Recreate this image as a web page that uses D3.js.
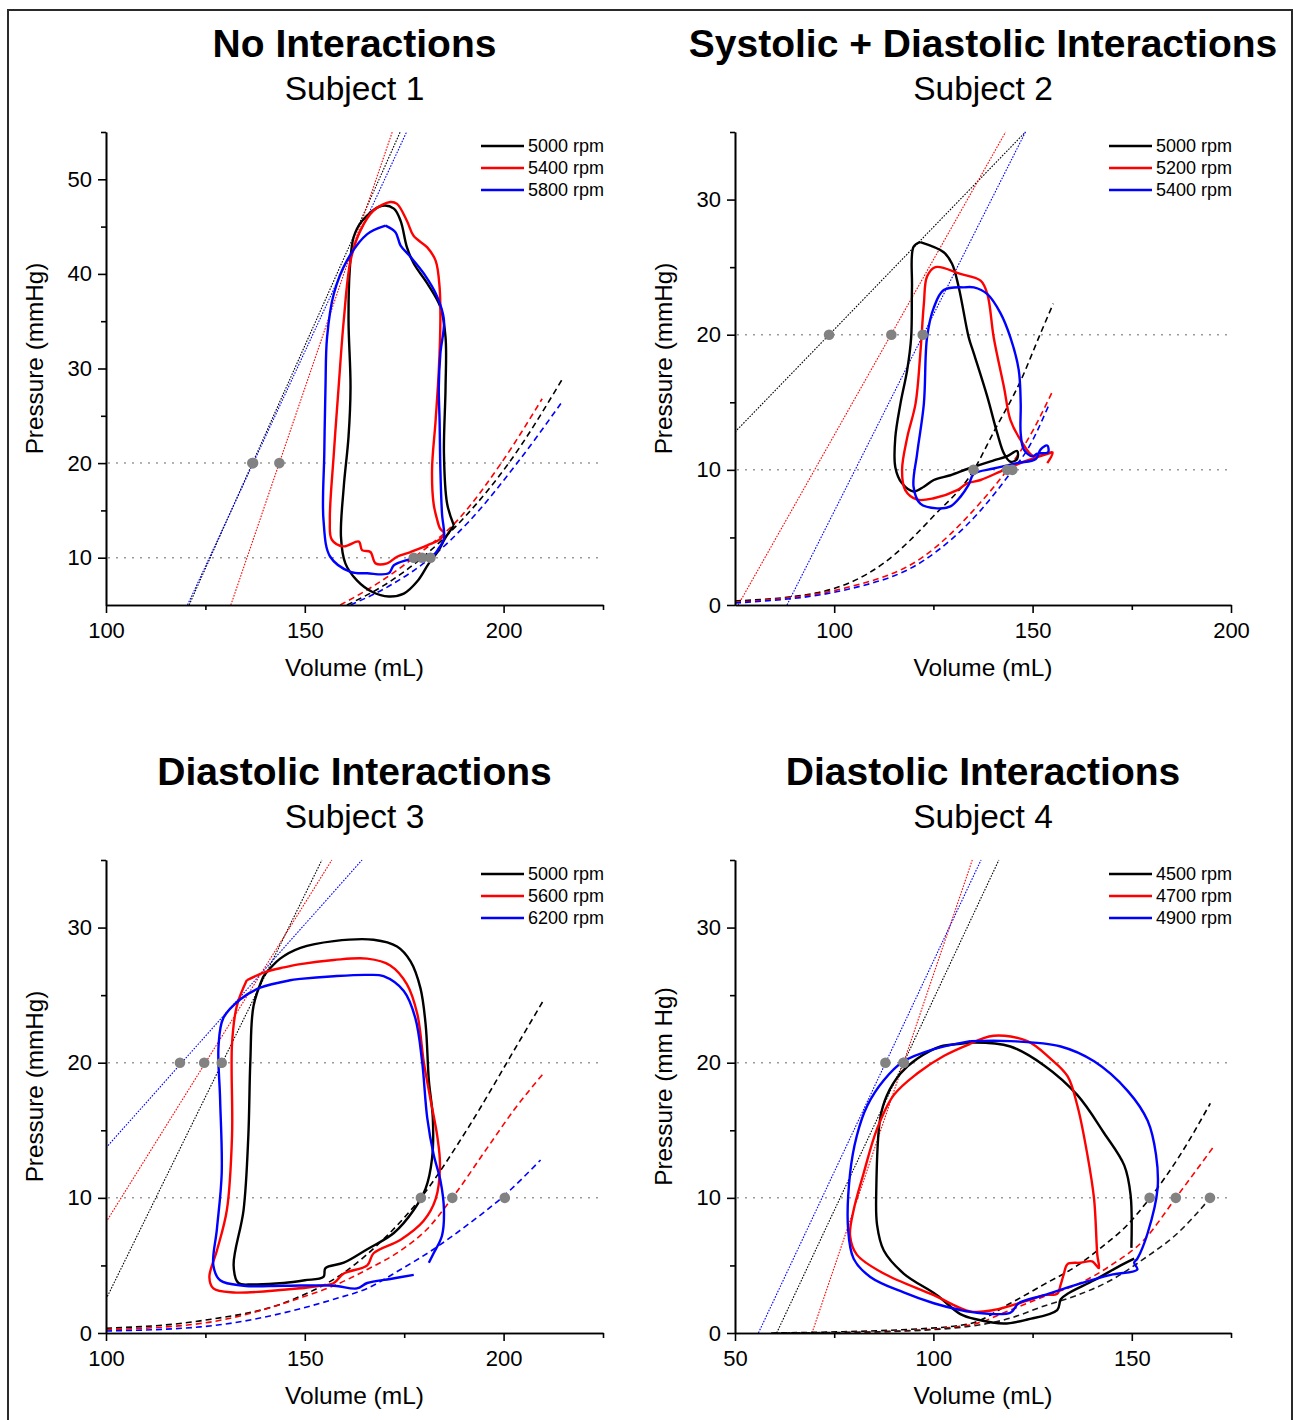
<!DOCTYPE html>
<html>
<head>
<meta charset="utf-8">
<script src="https://cdn.jsdelivr.net/npm/d3@7"></script>
<style>
  body { margin: 0; background: #fff; }
  svg text { font-family: "Liberation Sans", Arial, sans-serif; fill: #000; }
</style>
</head>
<body>
<svg id="fig" width="1293" height="1420"></svg>
<script>
// ---------- text ----------
const panelTitles = ["No Interactions", "Systolic + Diastolic Interactions", "Diastolic Interactions", "Diastolic Interactions"];
const panelSubtitles = ["Subject 1", "Subject 2", "Subject 3", "Subject 4"];
const speedLabels = [
  ["5000 rpm", "5400 rpm", "5800 rpm"],
  ["5000 rpm", "5200 rpm", "5400 rpm"],
  ["5000 rpm", "5600 rpm", "6200 rpm"],
  ["4500 rpm", "4700 rpm", "4900 rpm"]
];
const yAxisTitles = ["Pressure (mmHg)", "Pressure (mmHg)", "Pressure (mmHg)", "Pressure (mm Hg)"];
const xAxisTitle = "Volume (mL)";

// ---------- axes ----------
const xDomains = [[100, 225], [75, 200], [100, 225], [50, 175]];
const yDomains = [[5, 55], [0, 35], [0, 35], [0, 35]];
const xMajorTicks = [[100, 150, 200], [100, 150, 200], [100, 150, 200], [50, 100, 150]];
const xMinorTicks = [[125, 175, 225], [125, 175], [125, 175, 225], [75, 125, 175]];
const yMajorTicks = [[10, 20, 30, 40, 50], [0, 10, 20, 30], [0, 10, 20, 30], [0, 10, 20, 30]];
const yMinorTicks = [[15, 25, 35, 45, 55], [5, 15, 25, 35], [5, 15, 25, 35], [5, 15, 25, 35]];
const refPressures = [10, 20];

// ---------- Subject 1: pressure-volume loops [mL, mmHg] ----------
const s1Loop5000 = [[187.5,13.4],[185.8,15.7],[185.0,21.0],[185.4,28.0],[185.4,33.3],[184.1,36.5],[180.8,39.0],[177.4,41.1],[175.7,42.8],[174.1,45.6],[172.4,46.9],[169.4,47.2],[164.4,45.6],[162.3,43.9],[161.3,40.4],[161.0,35.1],[161.5,28.0],[161.0,22.8],[159.8,17.5],[159.1,12.2],[160.2,9.4],[163.1,7.6],[166.9,6.4],[171.1,5.9],[174.9,6.2],[178.3,7.5],[181.2,9.4],[183.7,10.8],[185.2,12.0],[187.5,13.4]];
const s1Loop5400 = [[183.3,14.0],[182.4,15.7],[182.0,19.3],[182.9,24.5],[183.7,29.8],[184.1,35.1],[183.9,38.6],[182.9,41.4],[180.8,42.8],[177.4,44.0],[175.7,45.6],[173.2,47.4],[171.5,47.6],[167.3,46.7],[164.0,44.6],[161.5,41.4],[159.8,35.1],[158.5,28.0],[157.3,21.0],[156.3,14.0],[156.8,11.9],[159.8,11.2],[163.6,11.7],[164.4,10.8],[166.5,10.6],[167.8,9.4],[170.7,9.4],[173.2,10.1],[176.6,10.6],[180.8,11.3],[184.1,12.0],[185.0,12.6],[184.0,13.1],[183.3,14.0]];
const s1Loop5800 = [[170.3,45.1],[165.7,44.2],[160.6,41.4],[157.3,37.9],[155.6,33.3],[155.2,28.0],[154.9,21.0],[154.7,14.0],[156.4,10.1],[161.5,8.5],[165.7,8.35],[171.1,8.35],[172.4,9.2],[175.7,9.75],[179.1,10.1],[182.4,10.3],[183.7,11.0],[185.0,12.0],[184.5,14.7],[184.1,19.3],[183.9,24.5],[183.7,28.0],[184.1,31.6],[185.0,35.1],[183.3,37.6],[180.0,40.0],[176.6,41.8],[174.1,43.0],[172.8,44.4],[170.3,45.1]];
// end-systolic lines (endpoints) and end-diastolic curves, order 5000 / 5400 / 5800
const s1Espvr = [[[120.9,5],[174.0,55]], [[131.4,5],[172.0,55]], [[120.5,5],[175.6,55]]];
const s1Edpvr = [
  [[160.6,5],[170,7.1],[179.5,10],[190,14.2],[201.3,20],[214.8,28.9]],
  [[158.9,5],[168,7.2],[177.4,10],[188.5,14],[199.4,20],[209.7,26.8]],
  [[161.5,5],[172,7.2],[181.7,10],[191,13.7],[203.4,20],[214.4,26.3]]
];
const s1VolAt20 = [136.8, 143.6, 137.0];
const s1VolAt10 = [179.5, 177.4, 181.6];

// ---------- Subject 2 ----------
const s2Loop5000 = [[121.7,26.85],[120.0,26.5],[119.6,23.5],[119.4,19.8],[118.4,17.4],[116.7,14.9],[115.4,12.4],[115.4,10.2],[117.1,9.0],[120.0,8.4],[122.6,8.75],[125.1,9.25],[129.3,9.6],[133.9,10.1],[140.2,10.7],[143.5,11.0],[146.1,11.4],[146.1,10.8],[144.4,10.6],[142.8,11.2],[141.1,12.7],[138.6,15.4],[135.2,18.6],[133.9,19.8],[131.4,23.5],[129.7,25.25],[127.6,26.1],[121.7,26.85]];
const s2Loop5200 = [[153.7,10.5],[155.0,11.3],[150.3,11.0],[147.0,12.2],[144.4,13.7],[142.8,16.1],[140.2,19.8],[138.6,23.0],[136.9,24.0],[131.8,24.5],[125.5,25.0],[123.4,24.3],[122.6,22.3],[121.7,18.6],[120.5,14.9],[118.4,12.4],[117.1,10.0],[117.9,8.5],[120.9,7.8],[125.1,7.9],[131.0,8.5],[133.5,9.0],[136.9,9.25],[142.8,10.0],[148.7,10.7],[155.0,11.3]];
const s2Loop5400 = [[132.7,23.5],[127.6,23.3],[125.1,22.0],[123.4,19.8],[122.6,14.9],[120.9,11.2],[120.0,8.75],[121.7,7.5],[125.9,7.15],[129.3,7.3],[131.8,8.0],[133.9,8.9],[135.2,9.7],[140.2,10.1],[146.1,10.5],[150.8,10.8],[152.0,11.5],[153.7,11.8],[153.9,11.3],[151.2,11.2],[149.9,11.0],[147.8,11.5],[147.0,12.7],[147.0,14.9],[146.5,17.4],[144.4,19.8],[141.9,21.6],[138.6,23.0],[135.2,23.5],[132.7,23.5]];
const s2Espvr = [[[75,12.8],[148.2,35]], [[75.8,0],[143.2,35]], [[88.1,0],[148.2,35]]];
const s2Edpvr = [
  [[75,0.3],[95.6,0.9],[112.5,3.1],[125.1,6.6],[135.2,10],[140.2,12.8],[147,16.6],[152,20.1],[155.2,22.3]],
  [[75,0.2],[104,1.35],[122.6,3.6],[136.9,7.6],[143.6,10],[148.7,12.2],[155,15.8]],
  [[75,0.15],[104,1.2],[122.6,3.3],[136.9,7.0],[145,10],[148.7,11.5],[154.1,14.8]]
];
const s2VolAt20 = [98.7, 114.4, 122.3];
const s2VolAt10 = [135.1, 143.6, 144.9];

// ---------- Subject 3 ----------
const s3Loop5000 = [[139.6,26.4],[137.1,24.2],[136.3,20.1],[135.8,14.6],[134.6,9.1],[132.1,5.0],[133.3,3.7],[137.1,3.6],[144.7,3.7],[150,3.9],[154.7,4.15],[155.2,4.8],[159.8,5.2],[165.7,6.2],[172.4,7.4],[177.4,9.1],[180.4,10.7],[182.0,12.9],[182.2,15.9],[181.2,18.7],[180.4,22.8],[179.1,25.5],[176.6,27.5],[173.2,28.6],[167.3,29.1],[157.3,29.0],[148.9,28.5],[143.8,27.7],[139.6,26.4]];
const s3Loop5600 = [[135.4,26.1],[132.9,24.2],[131.7,21.4],[131.7,14.6],[130.4,9.1],[127.9,6.1],[126.0,4.15],[127.0,3.3],[132.1,3.0],[144.7,3.2],[153.9,3.5],[157.3,3.7],[159.8,4.4],[165.7,5.0],[167.3,5.9],[174.1,6.9],[179.9,8.3],[182.9,9.9],[184.0,12.4],[183.3,14.6],[181.6,17.3],[179.9,20.1],[178.3,23.6],[175.7,25.8],[171.5,27.2],[165.7,27.7],[157.3,27.6],[148.9,27.3],[144.7,27.05],[140.0,26.7],[135.4,26.1]];
const s3Loop6200 = [[181.2,5.2],[182.4,5.9],[184.5,7.2],[185.0,9.1],[184.1,11.3],[182.4,13.2],[180.8,15.9],[179.5,20.1],[177.8,23.3],[174.9,25.3],[169.8,26.4],[165.7,26.5],[157.3,26.4],[148.9,26.2],[146.3,26.1],[138.8,25.55],[133.8,24.7],[129.5,23.3],[128.3,21.2],[128.7,17.3],[129.1,11.8],[127.9,7.7],[127.0,5.0],[128.7,3.9],[134.6,3.5],[144.7,3.5],[157.3,3.5],[163.1,3.3],[165.7,3.7],[171.5,4.0],[177.4,4.3]];
const s3Espvr = [[[100,2.5],[154.3,35]], [[100,8.2],[156.8,35]], [[100,13.7],[164.4,35]]];
const s3Edpvr = [
  [[100,0.35],[123.7,0.9],[146.3,2.4],[160,4.5],[170,7.0],[179.2,10],[190.9,15.1],[202.6,20.9],[210.2,24.7]],
  [[100,0.25],[123.7,0.7],[148.9,2.6],[157.3,3.5],[165.7,4.7],[174.1,6.1],[180.8,7.7],[187.1,10],[195.9,13.7],[202.6,16.5],[210,19.2]],
  [[100,0.15],[123.7,0.45],[148.9,1.8],[157.3,2.5],[165.7,3.3],[174.1,4.7],[182.4,6.2],[190.9,8.0],[199.5,10],[209.3,12.8]]
];
const s3VolAt20 = [129.1, 124.7, 118.6];
const s3VolAt10 = [179.2, 187.1, 200.3];

// ---------- Subject 4 ----------
const s4Loop4500 = [[150.6,5.5],[147.2,5.0],[140.5,3.9],[133.8,2.9],[132.1,2.5],[131.2,1.7],[123.7,1.0],[117.8,0.7],[111.0,1.0],[106.8,1.4],[100.9,2.8],[92.5,4.4],[87.5,6.1],[85.8,8.0],[85.6,10.5],[86.6,15.9],[88.3,17.6],[91.7,19.2],[95.9,20.3],[101.8,21.2],[106.8,21.4],[110.2,21.5],[119.4,21.2],[127.9,19.8],[136.3,17.6],[143.0,14.8],[148.1,12.4],[149.7,10.2],[149.9,6.3]];
const s4Loop4700 = [[109.3,21.4],[115.2,22.0],[123.7,21.6],[129.5,20.3],[133.8,19.0],[136.3,16.8],[138.8,13.2],[140.5,9.9],[141.3,5.8],[141.7,4.8],[140.0,5.3],[137.1,5.2],[133.8,5.1],[132.9,4.4],[132.1,3.6],[131.2,2.9],[127.9,2.8],[123.7,2.4],[115.2,1.7],[109.3,1.6],[100.1,2.8],[87.5,4.4],[80.7,5.8],[79.0,7.2],[79.9,9.1],[82.4,11.8],[85.8,15.1],[90.0,17.6],[95.9,19.2],[102.6,20.5],[109.3,21.4]];
const s4Loop4900 = [[109.3,21.6],[119.4,21.6],[132.1,21.2],[140.5,20.1],[149.0,17.9],[154.0,15.7],[156.1,13.2],[156.5,10.7],[154.0,7.4],[151.4,5.5],[150.6,5.2],[151.4,4.7],[144.7,4.3],[136.3,3.6],[127.9,2.8],[121.5,2.2],[119.4,1.5],[111.0,1.5],[106.8,1.7],[100.1,2.2],[92.5,3.0],[84.1,4.15],[79.9,5.5],[78.5,7.7],[79.0,11.8],[80.7,14.6],[83.3,16.8],[87.5,18.7],[92.5,20.1],[100.1,21.0],[109.3,21.6]];
const s4Espvr = [[[60.5,0],[116.5,35]], [[69.4,0],[109.8,35]], [[55.9,0],[112.0,35]]];
const s4Edpvr = [
  [[59.1,0],[95.9,0.3],[109.3,0.7],[119.4,2.2],[127.9,3.6],[136.3,5.0],[142.2,6.3],[148.9,8.0],[154.6,10],[161.6,12.9],[169.8,17.0]],
  [[70,0],[87.5,0.1],[109.3,0.6],[119.4,1.7],[127.9,2.7],[136.3,3.6],[144.7,5.0],[153.1,6.9],[161.1,10],[170.4,13.7]],
  [[60,0],[87.5,0.1],[109.3,0.5],[119.4,1.1],[127.9,2.0],[136.3,2.8],[144.7,3.9],[153.1,5.5],[161.6,7.4],[169.8,10]]
];
const s4VolAt20 = [92.5, 92.5, 87.9];
const s4VolAt10 = [154.5, 161.1, 169.7];

// ---------- styling ----------
const seriesColors = ["#000000", "#ff0000", "#0000ff"];
const edpvrColors = [seriesColors, seriesColors, seriesColors, ["#000000", "#ff0000", "#1a1a1a"]];
const boxes = [
  { x0: 106, x1: 603, y0: 605, y1: 132 },
  { x0: 735, x1: 1231, y0: 605, y1: 132 },
  { x0: 106, x1: 603, y0: 1333, y1: 860 },
  { x0: 735, x1: 1231, y0: 1333, y1: 860 }
];

const panels = [
  { loops: [s1Loop5000, s1Loop5400, s1Loop5800], espvr: s1Espvr, edpvr: s1Edpvr, at20: s1VolAt20, at10: s1VolAt10 },
  { loops: [s2Loop5000, s2Loop5200, s2Loop5400], espvr: s2Espvr, edpvr: s2Edpvr, at20: s2VolAt20, at10: s2VolAt10 },
  { loops: [s3Loop5000, s3Loop5600, s3Loop6200], espvr: s3Espvr, edpvr: s3Edpvr, at20: s3VolAt20, at10: s3VolAt10 },
  { loops: [s4Loop4500, s4Loop4700, s4Loop4900], espvr: s4Espvr, edpvr: s4Edpvr, at20: s4VolAt20, at10: s4VolAt10 }
];

const svg = d3.select("#fig");

// outer frame
svg.append("rect")
  .attr("x", 8).attr("y", 10).attr("width", 1284).attr("height", 1430)
  .attr("fill", "none").attr("stroke", "#2a2a2a").attr("stroke-width", 2);

panels.forEach((pn, i) => {
  const b = boxes[i];
  const x = d3.scaleLinear().domain(xDomains[i]).range([b.x0, b.x1]);
  const y = d3.scaleLinear().domain(yDomains[i]).range([b.y0, b.y1]);
  const g = svg.append("g");

  const clipId = "clip" + i;
  svg.append("clipPath").attr("id", clipId)
    .append("rect").attr("x", b.x0).attr("y", b.y1 - 2)
    .attr("width", b.x1 - b.x0 + 2).attr("height", b.y0 - b.y1 + 2);
  const plot = g.append("g").attr("clip-path", `url(#${clipId})`);

  // reference pressure levels
  plot.selectAll("line.ref").data(refPressures).join("line")
    .attr("x1", b.x0 + 2).attr("x2", b.x1 - 4)
    .attr("y1", d => y(d)).attr("y2", d => y(d))
    .attr("stroke", "#9a9a9a").attr("stroke-width", 1.5)
    .attr("stroke-dasharray", "2,6");

  // end-systolic pressure-volume lines
  plot.selectAll("line.es").data(pn.espvr).join("line")
    .attr("x1", d => x(d[0][0])).attr("y1", d => y(d[0][1]))
    .attr("x2", d => x(d[1][0])).attr("y2", d => y(d[1][1]))
    .attr("stroke", (d, k) => seriesColors[k]).attr("stroke-width", 1.1)
    .attr("stroke-dasharray", "1.6,1.4");

  // end-diastolic pressure-volume curves
  const edLine = d3.line().x(d => x(d[0])).y(d => y(d[1])).curve(d3.curveMonotoneX);
  plot.selectAll("path.ed").data(pn.edpvr).join("path")
    .attr("d", edLine).attr("fill", "none")
    .attr("stroke", (d, k) => edpvrColors[i][k]).attr("stroke-width", 1.6)
    .attr("stroke-dasharray", "6,4");

  // pressure-volume loops
  const loopLine = d3.line().x(d => x(d[0])).y(d => y(d[1])).curve(d3.curveCatmullRom.alpha(0.5));
  plot.selectAll("path.loop").data(pn.loops).join("path")
    .attr("d", loopLine).attr("fill", "none")
    .attr("stroke", (d, k) => seriesColors[k]).attr("stroke-width", 2.4)
    .attr("stroke-linejoin", "round");

  // volumes at the reference pressures
  const dots = pn.at20.map(v => [v, 20]).concat(pn.at10.map(v => [v, 10]));
  g.selectAll("circle.pt").data(dots).join("circle")
    .attr("cx", d => x(d[0])).attr("cy", d => y(d[1])).attr("r", 5.3)
    .attr("fill", "#828282");

  // axes
  const axisStyle = sel => {
    sel.selectAll(".domain").attr("stroke", "#000").attr("stroke-width", 1.6);
    sel.selectAll(".tick line").attr("stroke", "#000").attr("stroke-width", 1.6);
    sel.selectAll(".tick text").style("font-size", "22px").attr("fill", "#000")
      .style("font-family", '"Liberation Sans", Arial, sans-serif');
  };
  g.append("g").attr("transform", `translate(0,${b.y0})`)
    .call(d3.axisBottom(x).tickValues(xMinorTicks[i]).tickSize(5).tickSizeOuter(0).tickFormat(""))
    .call(axisStyle);
  g.append("g").attr("transform", `translate(0,${b.y0})`)
    .call(d3.axisBottom(x).tickValues(xMajorTicks[i]).tickSize(8).tickSizeOuter(0).tickPadding(9).tickFormat(d3.format("d")))
    .call(axisStyle);
  g.append("g").attr("transform", `translate(${b.x0},0)`)
    .call(d3.axisLeft(y).tickValues(yMinorTicks[i]).tickSize(5).tickSizeOuter(0).tickFormat(""))
    .call(axisStyle);
  g.append("g").attr("transform", `translate(${b.x0},0)`)
    .call(d3.axisLeft(y).tickValues(yMajorTicks[i]).tickSize(8).tickSizeOuter(0).tickPadding(6).tickFormat(d3.format("d")))
    .call(axisStyle);

  // axis titles
  g.append("text")
    .attr("x", (b.x0 + b.x1) / 2).attr("y", b.y0 + 71)
    .attr("text-anchor", "middle").style("font-size", "24.5px")
    .text(xAxisTitle);
  g.append("text")
    .attr("transform", `translate(${b.x0 - 63},${(b.y0 + b.y1) / 2 - 10}) rotate(-90)`)
    .attr("text-anchor", "middle").style("font-size", "24.3px")
    .text(yAxisTitles[i]);

  // panel titles
  g.append("text")
    .attr("x", (b.x0 + b.x1) / 2).attr("y", b.y1 - 75)
    .attr("text-anchor", "middle").style("font-size", "39px").style("font-weight", "bold")
    .text(panelTitles[i]);
  g.append("text")
    .attr("x", (b.x0 + b.x1) / 2).attr("y", b.y1 - 32)
    .attr("text-anchor", "middle").style("font-size", "33.5px")
    .text(panelSubtitles[i]);

  // legend
  const leg = g.append("g");
  speedLabels[i].forEach((lab, k) => {
    const ly = b.y1 + 14 + k * 22;
    leg.append("line")
      .attr("x1", b.x1 - 122).attr("x2", b.x1 - 79)
      .attr("y1", ly).attr("y2", ly)
      .attr("stroke", seriesColors[k]).attr("stroke-width", 2.3);
    leg.append("text")
      .attr("x", b.x1 - 75).attr("y", ly).attr("dy", "0.35em")
      .style("font-size", "18px")
      .text(lab);
  });
});
</script>
</body>
</html>
